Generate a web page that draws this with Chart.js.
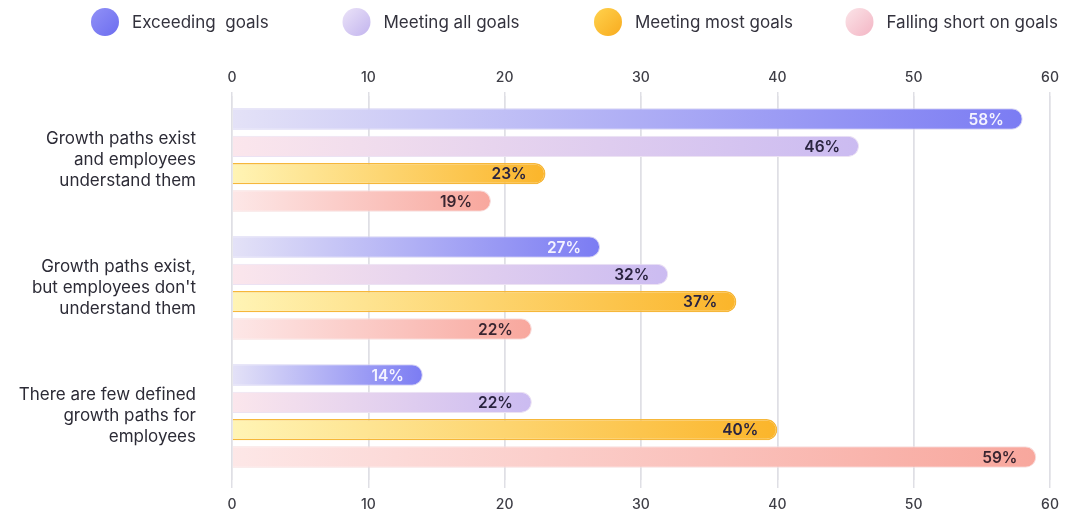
<!DOCTYPE html>
<html>
<head>
<meta charset="utf-8">
<script src="https://cdn.jsdelivr.net/npm/chart.js@4"></script>
<style>
  html, body { margin: 0; padding: 0; background: #ffffff; }
  #wrap { width: 1091px; height: 516px; }
</style>
</head>
<body>
<div id="wrap"><canvas id="goalsChart"></canvas></div>
<script>
const categories = [
  ["Growth paths exist", "and employees", "understand them"],
  ["Growth paths exist,", "but employees don't", "understand them"],
  ["There are few defined", "growth paths for", "employees"],
];
const seriesNames = ["Exceeding  goals", "Meeting all goals", "Meeting most goals", "Falling short on goals"];
const exceeding = [58, 27, 14];
const meetingAll = [46, 32, 22];
const meetingMost = [23, 37, 40];
const fallingShort = [19, 22, 59];
const xMin = 0;
const xMax = 60;
const xStep = 10;

const FONT = "Inter, 'Noto Sans', sans-serif";

// left colour, right colour, border, label colour, legend dot from/to
const styles = [
  { from: "#e4e2f7", to: "#7b7cf3", border: "#d6d3f3", label: "#f4f3ff", dot: ["#9191f7", "#6c6def"] },
  { from: "#fbe6ec", to: "#cbbbf1", border: "#ece2f3", label: "#2a2440", dot: ["#ebe3f8", "#c2b4ee"] },
  { from: "#fff4b5", to: "#fbb52a", border: "#f6b73a", label: "#2a2440", dot: ["#ffd24d", "#f8ab1f"] },
  { from: "#fde7e7", to: "#f8a79d", border: "#f7dede", label: "#3a2530", dot: ["#fbe4e8", "#f3b5c4"] },
];

function barGradient(from, to) {
  return (ctx) => {
    const chart = ctx.chart;
    if (!chart.chartArea || ctx.type !== "data") return to;
    const xs = chart.scales.x;
    const x0 = xs.getPixelForValue(0);
    const x1 = xs.getPixelForValue(ctx.parsed.x);
    const g = chart.ctx.createLinearGradient(x0, 0, Math.max(x1, x0 + 1), 0);
    g.addColorStop(0, from);
    g.addColorStop(1, to);
    return g;
  };
}

// percentage text near the right end of each bar
const valueLabels = {
  id: "valueLabels",
  afterDatasetsDraw(chart) {
    const ctx = chart.ctx;
    ctx.save();
    ctx.font = "600 15.5px " + FONT;
    ctx.textAlign = "right";
    ctx.textBaseline = "middle";
    chart.data.datasets.forEach((ds, i) => {
      const meta = chart.getDatasetMeta(i);
      meta.data.forEach((bar, j) => {
        ctx.fillStyle = styles[i].label;
        ctx.fillText(ds.data[j] + "%", bar.x - 19, bar.y + 1);
      });
    });
    ctx.restore();
  },
};

// legend row with round gradient dots, evenly spaced
const dotLegend = {
  id: "dotLegend",
  afterDraw(chart) {
    const ctx = chart.ctx;
    ctx.save();
    ctx.font = "17px " + FONT;
    ctx.textBaseline = "middle";
    ctx.textAlign = "left";
    seriesNames.forEach((name, i) => {
      const cx = 105 + i * 251.5;
      const cy = 22;
      const g = ctx.createLinearGradient(cx - 14, cy - 14, cx + 14, cy + 14);
      g.addColorStop(0, styles[i].dot[0]);
      g.addColorStop(1, styles[i].dot[1]);
      ctx.fillStyle = g;
      ctx.beginPath();
      ctx.arc(cx, cy, 14, 0, Math.PI * 2);
      ctx.fill();
      ctx.fillStyle = "#33323d";
      ctx.fillText(name, cx + 27, cy + 1);
    });
    ctx.restore();
  },
};

const seriesData = [exceeding, meetingAll, meetingMost, fallingShort];

const xTicks = {
  color: "#3d3d45",
  font: { family: FONT, size: 14, weight: 500 },
  stepSize: xStep,
};

new Chart(document.getElementById("goalsChart"), {
  type: "bar",
  data: {
    labels: categories,
    datasets: seriesData.map((values, i) => ({
      label: seriesNames[i],
      data: values,
      xAxisID: "x",
      backgroundColor: barGradient(styles[i].from, styles[i].to),
      borderColor: styles[i].border,
      borderWidth: i === 2 ? 1.5 : 1,
      borderRadius: 11,
      borderSkipped: "start",
      categoryPercentage: 0.855,
      barPercentage: 0.78,
    })),
  },
  options: {
    indexAxis: "y",
    responsive: true,
    maintainAspectRatio: false,
    animation: false,
    layout: { padding: { top: 58, right: 41, bottom: 0, left: 0 } },
    plugins: {
      legend: { display: false },
      tooltip: { enabled: false },
    },
    scales: {
      x: {
        position: "top",
        min: xMin,
        max: xMax,
        ticks: { ...xTicks, padding: 6 },
        grid: { color: "#dfdfe5", lineWidth: 1.5, tickLength: 4 },
        border: { display: false },
        afterFit: (axis) => { axis.height = 38; },
      },
      x2: {
        position: "bottom",
        min: xMin,
        max: xMax,
        ticks: { ...xTicks, padding: 8 },
        grid: { color: "#dfdfe5", lineWidth: 1.5, tickLength: 8 },
        border: { display: false },
        afterFit: (axis) => { axis.height = 36; },
      },
      y: {
        ticks: {
          color: "#2c2b36",
          font: { family: FONT, size: 17, lineHeight: 1.25 },
          padding: 28,
        },
        grid: { display: false },
        border: { display: false },
        afterFit: (axis) => {
          axis.width = 232;
          axis.paddingTop = 0;
          axis.paddingBottom = 0;
        },
      },
    },
  },
  plugins: [valueLabels, dotLegend],
});
</script>
</body>
</html>
